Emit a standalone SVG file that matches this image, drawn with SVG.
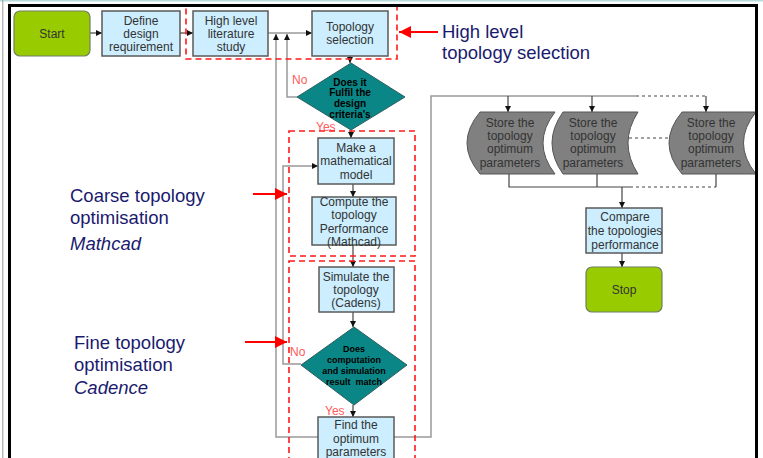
<svg xmlns="http://www.w3.org/2000/svg" width="763" height="458" viewBox="0 0 763 458">
<defs>
<style>
.box{fill:#cceeff;stroke:#5a5a5a;stroke-width:1.5}
.term{fill:#99cc00;stroke:#6f7f5f;stroke-width:1.2}
.dia{fill:#0a8686;stroke:#2f5f5f;stroke-width:1}
.store{fill:#808080;stroke:#555;stroke-width:1}
.t{font-family:"Liberation Sans",Arial,sans-serif;font-size:12px;fill:#333;text-anchor:middle}
.tb{font-family:"Liberation Sans",Arial,sans-serif;font-weight:bold;fill:#000;text-anchor:middle}
.lbl{font-family:"Liberation Sans",Arial,sans-serif;font-size:18.5px;fill:#1a1a6e}
.yn{font-family:"Liberation Sans",Arial,sans-serif;font-size:12px;fill:#ff5a5a}
.ln{fill:none;stroke:#444;stroke-width:1.2}
.lg{fill:none;stroke:#999;stroke-width:1.5}
.dot{fill:none;stroke:#444;stroke-width:1.2;stroke-dasharray:3 3}
.red{fill:none;stroke:#ff1a1a;stroke-width:1.6;stroke-dasharray:6 4}
.ra{stroke:#ff0000;stroke-width:1.8;fill:none}
</style>
<marker id="ah" viewBox="0 0 10 10" refX="10" refY="5" markerWidth="6" markerHeight="6" orient="auto" markerUnits="userSpaceOnUse"><path d="M0,0 L10,5 L0,10 Z" fill="#111"/></marker>
<marker id="rah" viewBox="0 0 10 10" refX="10" refY="5" markerWidth="13" markerHeight="12" orient="auto" markerUnits="userSpaceOnUse"><path d="M0,0 L10,5 L0,10 Z" fill="#ff0000"/></marker>
</defs>
<rect x="0" y="0" width="763" height="458" fill="#fff"/>
<line x1="0" y1="0.8" x2="763" y2="0.8" stroke="#b8dcdc" stroke-width="1.5"/>
<line x1="2.8" y1="0" x2="2.8" y2="458" stroke="#999" stroke-width="1"/>

<g id="connectors">
<line class="ln" x1="90" y1="33" x2="102" y2="33" marker-end="url(#ah)"/>
<line class="ln" x1="180" y1="33" x2="193" y2="33" marker-end="url(#ah)"/>
<line class="lg" x1="268" y1="33" x2="312" y2="33" marker-end="url(#ah)"/>
<path class="lg" d="M318,437 L276,437 L276,34" marker-end="url(#ah)"/>
<path class="lg" d="M297,97 L287,97 L287,34" marker-end="url(#ah)"/>
<line class="ln" x1="350" y1="56" x2="350" y2="63" marker-end="url(#ah)"/>
<line class="ln" x1="351" y1="130" x2="351" y2="138" marker-end="url(#ah)"/>
<line class="ln" x1="353" y1="184" x2="353" y2="197" marker-end="url(#ah)"/>
<line class="ln" x1="353" y1="245" x2="353" y2="267" marker-end="url(#ah)"/>
<line class="ln" x1="353" y1="312" x2="353" y2="327" marker-end="url(#ah)"/>
<path class="lg" d="M301,364 L283,364 L283,166 L318,166" marker-end="url(#ah)"/>
<line class="ln" x1="353" y1="405" x2="353" y2="417" marker-end="url(#ah)"/>
<path class="lg" d="M394,437 L431,437 L431,96 L636,96"/>
<path class="dot" d="M636,96 L706,96"/>
<line class="ln" x1="508" y1="96" x2="508" y2="112" marker-end="url(#ah)"/>
<line class="ln" x1="592" y1="96" x2="592" y2="112" marker-end="url(#ah)"/>
<line class="ln" x1="706" y1="96" x2="706" y2="112" marker-end="url(#ah)"/>
<path class="ln" d="M509,174 L509,187 L630,187"/>
<line class="ln" x1="597" y1="174" x2="597" y2="187"/>
<path class="dot" d="M630,187 L716,187"/>
<line class="ln" x1="716" y1="174" x2="716" y2="187"/>
<path class="dot" d="M623,138 L668,138"/>
<line class="ln" x1="622" y1="187" x2="622" y2="208" marker-end="url(#ah)"/>
<line class="ln" x1="622" y1="253" x2="622" y2="267" marker-end="url(#ah)"/>
</g>

<g id="start"><rect class="term" x="14" y="11" width="76" height="45" rx="6"/><text class="t" x="52" y="38">Start</text></g>
<g id="define"><rect class="box" x="102" y="11" width="78" height="45"/><text class="t" x="141" y="25">Define</text><text class="t" x="141" y="38">design</text><text class="t" x="141" y="51">requirement</text></g>
<g id="literature"><rect class="box" x="193" y="11" width="75" height="45"/><text class="t" x="231" y="25">High level</text><text class="t" x="231" y="38">literature</text><text class="t" x="231" y="51">study</text></g>
<g id="topology"><rect class="box" x="312" y="11" width="76" height="45"/><text class="t" x="350" y="31">Topology</text><text class="t" x="350" y="44">selection</text></g>
<g id="decision1"><path class="dia" d="M351,63 L405,97 L351,130 L297,97 Z"/>
<text class="tb" font-size="10" x="350" y="86">Does it</text><text class="tb" font-size="10" x="350" y="96">Fulfil the</text><text class="tb" font-size="10" x="350" y="107">design</text><text class="tb" font-size="10" x="350" y="118">criteria's</text></g>
<g id="model"><rect class="box" x="318" y="138" width="76" height="46"/><text class="t" x="356" y="152">Make a</text><text class="t" x="356" y="165">mathematical</text><text class="t" x="356" y="179">model</text></g>
<g id="compute"><rect class="box" x="312" y="197" width="84" height="48"/><text class="t" x="354" y="206">Compute the</text><text class="t" x="354" y="219">topology</text><text class="t" x="354" y="233">Performance</text><text class="t" x="354" y="246">(Mathcad)</text></g>
<g id="simulate"><rect class="box" x="319" y="267" width="75" height="45"/><text class="t" x="356" y="281">Simulate the</text><text class="t" x="356" y="294">topology</text><text class="t" x="356" y="307">(Cadens)</text></g>
<g id="decision2"><path class="dia" d="M354,327 L407,365 L354,405 L301,365 Z"/>
<text class="tb" font-size="9" x="354" y="352">Does</text><text class="tb" font-size="9" x="354" y="363">computation</text><text class="tb" font-size="9" x="354" y="374">and simulation</text><text class="tb" font-size="9" x="354" y="385" xml:space="preserve">result  match</text></g>
<g id="find"><rect class="box" x="318" y="417" width="76" height="50"/><text class="t" x="356" y="429">Find the</text><text class="t" x="356" y="443">optimum</text><text class="t" x="356" y="456">parameters</text></g>
<g id="store1"><path class="store" d="M480,112 L555,112 Q531,143 555,174 L480,174 Q454,143 480,112 Z"/><text class="t" x="510" y="127">Store the</text><text class="t" x="510" y="140">topology</text><text class="t" x="510" y="153">optimum</text><text class="t" x="510" y="167">parameters</text></g>
<g id="store2"><path class="store" d="M563,112 L638,112 Q618,143 638,174 L563,174 Q541,143 563,112 Z"/><text class="t" x="593" y="127">Store the</text><text class="t" x="593" y="140">topology</text><text class="t" x="593" y="153">optimum</text><text class="t" x="593" y="167">parameters</text></g>
<g id="store3"><path class="store" d="M682,112 L756,112 Q731,143 756,174 L682,174 Q656,143 682,112 Z"/><text class="t" x="711" y="127">Store the</text><text class="t" x="711" y="140">topology</text><text class="t" x="711" y="153">optimum</text><text class="t" x="711" y="167">parameters</text></g>
<g id="compare"><rect class="box" x="586" y="208" width="76" height="45"/><text class="t" x="625" y="221">Compare</text><text class="t" x="625" y="235">the topologies</text><text class="t" x="625" y="249">performance</text></g>
<g id="stop"><rect class="term" x="586" y="267" width="76" height="45" rx="6"/><text class="t" x="624" y="294">Stop</text></g>

<g id="labels">
<text class="yn" x="292" y="84">No</text>
<text class="yn" x="316" y="131">Yes</text>
<text class="yn" x="290" y="356">No</text>
<text class="yn" x="325" y="415">Yes</text>
</g>

<g id="regions">
<rect class="red" x="186" y="5.5" width="211" height="53.5"/>
<rect class="red" x="289" y="131" width="126" height="125"/>
<rect class="red" x="289" y="261" width="126" height="210"/>
<line class="ra" x1="438" y1="32" x2="399" y2="32" marker-end="url(#rah)"/>
<text class="lbl" x="442" y="38">High level</text>
<text class="lbl" x="442" y="59">topology selection</text>
<line class="ra" x1="253" y1="194" x2="287" y2="194" marker-end="url(#rah)"/>
<text class="lbl" x="70" y="202">Coarse topology</text>
<text class="lbl" x="70" y="224">optimisation</text>
<text class="lbl" x="70" y="250" font-style="italic">Mathcad</text>
<line class="ra" x1="245" y1="342" x2="287" y2="342" marker-end="url(#rah)"/>
<text class="lbl" x="74" y="349">Fine topology</text>
<text class="lbl" x="74" y="371">optimisation</text>
<text class="lbl" x="74" y="394" font-style="italic">Cadence</text>
</g>

<path d="M9.5,470 L9.5,5.5 L756.5,5.5 L756.5,470" fill="none" stroke="#000" stroke-width="3"/>
</svg>
